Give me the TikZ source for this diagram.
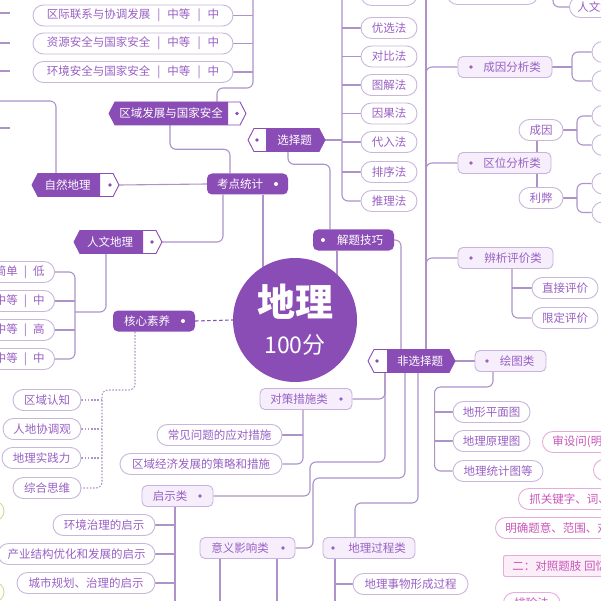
\documentclass[tikz,border=0pt]{standalone}
\usepackage{fontspec}
\setmainfont{Noto Sans CJK SC}
\usetikzlibrary{backgrounds}
\definecolor{dk}{HTML}{8A4CB5}
\definecolor{lc}{HTML}{AD93C9}
\definecolor{pb}{HTML}{C9B7DB}
\definecolor{pt}{HTML}{9960C4}
\definecolor{lf}{HTML}{F6EEFB}
\definecolor{lb}{HTML}{C9B2DE}
\definecolor{pk}{HTML}{C956B9}
\definecolor{pkb}{HTML}{E6ACDC}
\definecolor{pkf}{HTML}{FCEEF9}
\definecolor{yl}{HTML}{D3DA8A}
\newcommand\mmsep{\hspace{7pt}|\hspace{7pt}}
\newcommand\mmpill[5]{\node[pill,minimum width={#3-#2}] (#1) at ({(#2+#3)/2},#4) {#5};}
\newcommand\mmlight[7]{%
 \node[lightbox,minimum width={#3-#2}] (#1) at ({(#2+#3)/2},#4) {};
 \fill[pt] (#5,#4) circle (1.9pt);
 \node[ltext] at (#6,#4) {#7};}
\newcommand\mmdark[7]{%
 \node[darkbox,minimum width={#3-#2}] (#1) at ({(#2+#3)/2},#4) {};
 \fill[white] (#5,#4) circle (2pt);
 \node[dtext] at (#6,#4) {#7};}
\newcommand\mmtagl[8]{%
 \node[inner sep=0,minimum width={#3-#2},minimum height=23] (#1) at ({(#2+#3)/2},#4) {};
 \filldraw[fill=white,draw=dk,line width=0.9pt,line join=round] (#2,#4) -- (#2+6,#4-11.5) -- (#3-6,#4-11.5) -- (#3,#4) -- (#3-6,#4+11.5) -- (#2+6,#4+11.5) -- cycle;
 \fill[dk] (#2,#4) -- (#2+6,#4-11.5) -- (#5,#4-11.5) -- (#5,#4+11.5) -- (#2+6,#4+11.5) -- cycle;
 \fill[dk] (#6,#4) circle (1.9pt);
 \node[dtext] at (#7,#4) {#8};}
\newcommand\mmtagr[8]{%
 \node[inner sep=0,minimum width={#3-#2},minimum height=23] (#1) at ({(#2+#3)/2},#4) {};
 \filldraw[fill=white,draw=dk,line width=0.9pt,line join=round] (#2,#4) -- (#2+6,#4-11.5) -- (#3-6,#4-11.5) -- (#3,#4) -- (#3-6,#4+11.5) -- (#2+6,#4+11.5) -- cycle;
 \fill[dk] (#5,#4-11.5) -- (#3-6,#4-11.5) -- (#3,#4) -- (#3-6,#4+11.5) -- (#5,#4+11.5) -- cycle;
 \fill[dk] (#6,#4) circle (1.9pt);
 \node[dtext] at (#7,#4) {#8};}
\begin{document}
\begin{tikzpicture}[x=1pt,y=-1pt,font=\fontsize{11.5}{13}\selectfont,
 pill/.style={draw=pb,fill=white,rounded corners=10.5pt,minimum height=21,inner sep=0,text=pt,line width=0.9pt},
 pinkpill/.style={draw=pkb,fill=white,rounded corners=10.5pt,minimum height=21,inner ysep=0,text=pk,line width=0.9pt,anchor=west},
 lightbox/.style={draw=lb,fill=lf,rounded corners=5pt,minimum height=21,inner sep=0,line width=0.9pt},
 darkbox/.style={fill=dk,rounded corners=5pt,minimum height=21,inner sep=0},
 dtext/.style={text=white,inner sep=0},
 ltext/.style={text=pt,inner sep=0},
 conn/.style={draw=lc,line width=1.1pt,rounded corners=6pt},
 dotc/.style={draw=lc,line width=1.1pt,dash pattern=on 1.6pt off 1.6pt,rounded corners=6pt}]
\useasboundingbox (0,0) rectangle (601,601);
\clip (0,0) rectangle (601,601);
% ---- centre
\node[circle,fill=dk,minimum size=124,inner sep=0] (root) at (295,320) {};
\node[text=white,inner sep=0,font=\fontsize{38}{40}\selectfont\bfseries] (rootA) at (295,302) {地理};
\node[text=white,inner sep=0,font=\fontsize{23}{25}\selectfont] (rootB) at (295,345) {100分};
% ---- main branches
\mmdark{kdtj}{207}{288}{184}{276}{240}{考点统计}
\mmdark{hxsy}{113}{195}{321}{183}{147}{核心素养}
\mmdark{jtjq}{313}{394}{240}{323}{360}{解题技巧}
\mmtagl{qyfz}{109}{246}{113.5}{228}{237}{171}{区域发展与国家安全}
\mmtagl{zrdl}{32}{119}{185}{100}{110}{67.5}{自然地理}
\mmtagl{rwdl}{74}{162}{242}{143}{152}{110}{人文地理}
\mmtagr{xzt}{248}{325}{140}{266}{257}{294.5}{选择题}
\mmtagr{fxzt}{368}{455}{361}{387}{377}{420}{非选择题}
% ---- light nodes
\mmlight{cyfx}{458}{552}{67}{471}{512}{成因分析类}
\mmlight{qwfx}{458}{551}{163}{471}{512}{区位分析类}
\mmlight{bxpj}{458}{553}{258}{471}{513}{辨析评价类}
\mmlight{htl}{475}{546}{361}{487}{517}{绘图类}
\mmlight{dccs}{260}{352}{399}{341}{299}{对策措施类}
\mmlight{qsl}{142}{213}{496}{200}{170}{启示类}
\mmlight{yyyx}{200}{295}{548}{283}{240}{意义影响类}
\mmlight{dlgc}{323}{415}{548}{333}{377}{地理过程类}
% ---- pills
\mmpill{p1}{33}{233}{15.5}{区际联系与协调发展\mmsep 中等\mmsep 中}
\mmpill{p2}{33}{233}{43.5}{资源安全与国家安全\mmsep 中等\mmsep 中}
\mmpill{p3}{33}{233}{72}{环境安全与国家安全\mmsep 中等\mmsep 中}
\mmpill{m0}{361}{417}{-5}{排除法}
\mmpill{m1}{361}{417}{28}{优选法}
\mmpill{m2}{361}{417}{56.5}{对比法}
\mmpill{m3}{361}{417}{85}{图解法}
\mmpill{m4}{361}{417}{113.5}{因果法}
\mmpill{m5}{361}{417}{142}{代入法}
\mmpill{m6}{361}{417}{172}{排序法}
\mmpill{m7}{361}{417}{201}{推理法}
\node[pill,anchor=east,inner xsep=10] (L1) at (55,272) {简单\hspace{6pt}|\hspace{6pt}低};
\node[pill,anchor=east,inner xsep=10] (L2) at (55,301) {中等\hspace{6pt}|\hspace{6pt}中};
\node[pill,anchor=east,inner xsep=10] (L3) at (55,330) {中等\hspace{6pt}|\hspace{6pt}高};
\node[pill,anchor=east,inner xsep=10] (L4) at (55,359) {中等\hspace{6pt}|\hspace{6pt}中};
\mmpill{s1}{13}{81}{400}{区域认知}
\mmpill{s2}{3}{81}{429}{人地协调观}
\mmpill{s3}{2}{81}{458}{地理实践力}
\mmpill{s4}{13}{81}{488}{综合思维}
\mmpill{c1}{157}{282}{435}{常见问题的应对措施}
\mmpill{c2}{120}{282}{464}{区域经济发展的策略和措施}
\mmpill{q1}{53}{155}{525}{环境治理的启示}
\mmpill{q2}{-2}{155}{554}{产业结构优化和发展的启示}
\mmpill{q3}{17}{155}{583}{城市规划、治理的启示}
\mmpill{g1}{353}{468}{584}{地理事物形成过程}
\mmpill{zj}{532}{598}{288}{直接评价}
\mmpill{xd}{532}{598}{318}{限定评价}
\mmpill{cy}{519}{563}{130}{成因}
\mmpill{lb}{519}{563}{198}{利弊}
\mmpill{h1}{453}{530}{412}{地形平面图}
\mmpill{h2}{453}{530}{441}{地理原理图}
\mmpill{h3}{453}{543}{471}{地理统计图等}
\mmpill{r1}{592}{680}{52}{}
\mmpill{r2}{592}{680}{81}{}
\mmpill{r3}{592}{680}{116}{}
\mmpill{r4}{592}{680}{145}{}
\mmpill{r5}{592}{680}{183.5}{}
\mmpill{r6}{592}{680}{212.5}{}
\mmpill{t0}{447}{538}{-6}{}
\node[pill,anchor=west,inner xsep=8] (rw) at (569,7) {人文地理};
% ---- pink & yellow
\node[pinkpill,inner xsep=10] (k1) at (542,442) {审设问(明确设问)};
\node[pinkpill,minimum width=120] (k2) at (593,470) {};
\node[pinkpill,inner xsep=11] (k3) at (518,499) {抓关键字、词、句};
\node[pinkpill,inner xsep=10] (k4) at (495,528) {明确题意、范围、对象};
\node[pinkpill,fill=pkf,rounded corners=2pt,inner xsep=9] (k5) at (503,566) {二：对照题肢 回忆知识};
\node[pinkpill,inner xsep=11] (k6) at (503,603) {排除法};
\node[draw=yl,line width=0.9pt,rounded corners=10pt,minimum height=20,minimum width=60,inner sep=0] (y1) at (-26,511) {};
\node[draw=yl,line width=0.9pt,rounded corners=10pt,minimum height=20,minimum width=60,inner sep=0] (y2) at (-26,592) {};
% ---- connectors
\begin{scope}[on background layer]
\fill[white] (0,0) rectangle (601,601);
\draw[conn] ([xshift=15.5pt]kdtj.south) -- ++(0,90);
\draw[conn] ([xshift=-16.5pt]jtjq.south) -- ++(0,60);
\draw[dk,line width=1.1pt,dash pattern=on 3.5pt off 2.5pt] (hxsy.east) -- (root.west);
\draw[conn] (kdtj.west) -- (zrdl.east);
\draw[conn] ([xshift=-17.5pt]kdtj.north) -- ++(0,-24) -| ([xshift=-7.5pt]qyfz.south);
\draw[conn] ([xshift=-24.5pt]kdtj.south) |- (rwdl.east);
\draw[conn] ([xshift=39.5pt]qyfz.north) |- (253,88) -- (253,-20);
\foreach \p in {p1,p2,p3} \draw[conn] (\p.east) -- ++(20,0);
\draw[conn] ([xshift=-19.5pt]zrdl.north) |- (-10,101);
\foreach \yy in {13,43,71,128} \draw[conn] (-5,\yy) -- (10,\yy);
\draw[conn] ([xshift=-12pt]rwdl.south) |- (75,312);
\draw[conn] (L1.east) -- (75,272) -- (75,359) -- (L4.east);
\foreach \p in {L2,L3} \draw[conn] (\p.east) -- ++(20,0);
\draw[dotc] ([xshift=-19pt]hxsy.south) -- (135,390) -- (102,390) -- (102,488) -- (s4.east);
\foreach \p in {s1,s2,s3} \draw[dotc] (\p.east) -- ++(21,0);
\draw[conn] ([xshift=-23.5pt]jtjq.north) -- ++(0,-65) -| ([xshift=1.5pt]xzt.south);
\draw[conn] (xzt.east) -- (342,140);
\draw[conn] (342,-30) -- (342,201) -- (m7.west);
\foreach \p in {m0,m1,m2,m3,m4,m5,m6} \draw[conn] (\p.west) -- ++(-19,0);
\draw[conn] (jtjq.east) -| ([xshift=-10.5pt]fxzt.north);
\draw[conn] ([xshift=14.5pt]fxzt.north) -- ++(0,-400);
\foreach \p in {cyfx,qwfx,bxpj} \draw[conn] ([xshift=14.5pt]fxzt.north) |- (\p.west);
\draw[conn] (cyfx.east) -- ++(20,0);
\draw[conn] (r1.west) -- (572,52) -- (572,81) -- (r2.west);
\draw[conn] ([xshift=-4pt]cy.south) -- ([xshift=-4pt]lb.north);
\draw[conn] (cy.east) -- ++(14,0);
\draw[conn] (r3.west) -- (577,116) -- (577,145) -- (r4.west);
\draw[conn] (lb.east) -- ++(14,0);
\draw[conn] (r5.west) -- (577,183.5) -- (577,212.5) -- (r6.west);
\draw[conn] (t0.east) -- ++(15,0);
\draw[conn] (553,-20) -- (553,7) -- (rw.west);
\draw[conn] ([xshift=6.5pt]bxpj.south) |- (xd.west);
\draw[conn] (zj.west) -- ++(-20,0);
\draw[conn] (fxzt.east) -- (htl.west);
\draw[conn] ([xshift=-17.5pt]htl.south) -- ++(0,15) -| ([xshift=-18pt]h3.west) -- (h3.west);
\foreach \p in {h1,h2} \draw[conn] (\p.west) -- ++(-18,0);
\draw[conn] ([xshift=-26.5pt]fxzt.south) |- (dccs.east);
\draw[conn] ([xshift=-3pt]dccs.south) |- (c2.east);
\draw[conn] (c1.east) -- ++(21,0);
\draw[conn] ([xshift=-26.5pt]fxzt.south) -- (385,462) -- (310,462) -- (310,496) -- (qsl.east);
\draw[conn] ([xshift=-6.5pt]fxzt.south) -- (405,478) -- (313,478) -- (313,548) -- (yyyx.east);
\draw[conn] ([xshift=6.5pt]fxzt.south) -- (418,503) -- (355,503) -- (355,538);
\draw[conn] (175,507) -- (175,620);
\foreach \p in {q1,q2,q3} \draw[conn] (\p.east) -- ++(20,0);
\draw[conn] (220,559) -- (220,620);
\draw[conn] (277,559) -- (277,620);
\draw[conn] (335,558) -- (335,620);
\draw[conn] (g1.west) -- ++(-18,0);
\end{scope}
\end{tikzpicture}
\end{document}
